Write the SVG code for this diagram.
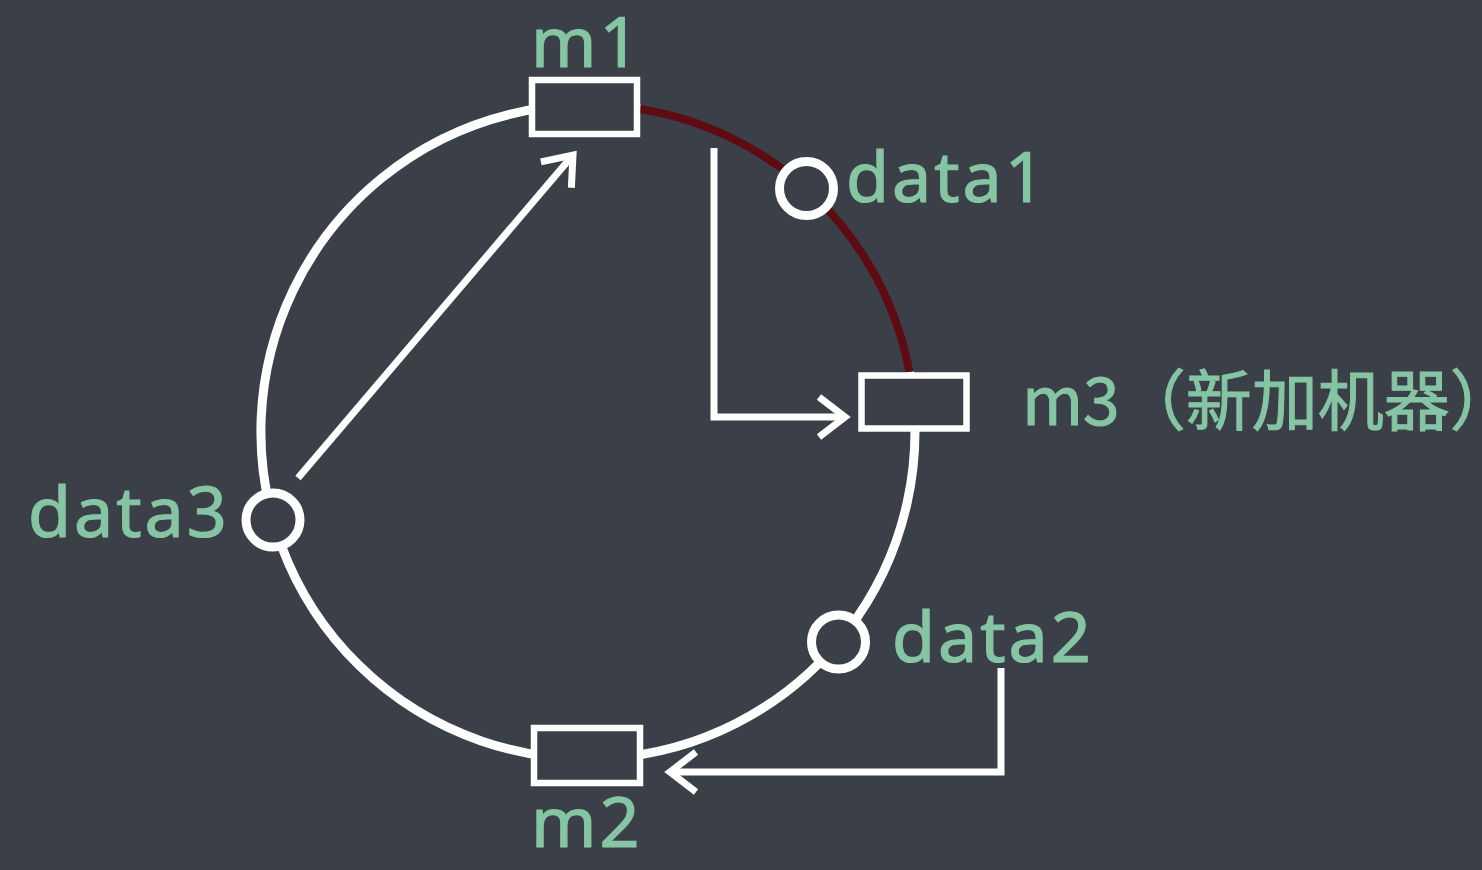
<svg xmlns="http://www.w3.org/2000/svg" width="1482" height="870" viewBox="0 0 1482 870">
  <defs>
    <style>
      .lbl { font-family: "Noto Sans", "Noto Sans CJK SC", sans-serif; font-size: 70px; fill: #86c5a4; stroke: #86c5a4; stroke-width: 1.2; letter-spacing: 3px; }
      .cjk { font-family: "Noto Sans CJK SC", "Noto Sans", sans-serif; font-size: 66px; fill: #86c5a4; stroke: #86c5a4; stroke-width: 1; }
      .ring { fill: none; stroke: #ffffff; stroke-width: 9; }
      .hot { fill: none; stroke: #5e0b12; stroke-width: 8; }
      .box { fill: #3b3f48; stroke: #ffffff; stroke-width: 6.5; }
      .dot { fill: #3b3f48; stroke: #ffffff; stroke-width: 9; }
      .conn { fill: none; stroke: #ffffff; stroke-width: 7; marker-end: url(#chev); }
    </style>
    <marker id="chev" markerUnits="userSpaceOnUse" markerWidth="60" markerHeight="60" viewBox="-40 -30 50 60" refX="0" refY="0" orient="auto" overflow="visible">
      <path d="M -26 -20 L 0 0 L -26 20" fill="none" stroke="#ffffff" stroke-width="7" stroke-linecap="butt" stroke-linejoin="miter"/>
    </marker>
  </defs>
  <rect x="0" y="0" width="1482" height="870" fill="#3b3f48"/>

  <g id="ring">
    <path class="ring" d="M 909.4 372 A 327 327 0 1 1 640 109"/>
    <path class="hot" d="M 640 109 A 327 327 0 0 1 909.4 372"/>
  </g>

  <g id="connectors">
    <path class="conn" d="M 298 478 L 573 155"/>
    <path class="conn" d="M 714 148 V 417 H 845"/>
    <path class="conn" d="M 1001 668 V 772 H 670"/>
  </g>

  <g id="m1">
    <rect class="box" x="532" y="80" width="105" height="54"/>
    <text class="lbl" x="531" y="67">m1</text>
  </g>
  <g id="m2">
    <rect class="box" x="534" y="728" width="106" height="55"/>
    <text class="lbl" x="531" y="847">m2</text>
  </g>
  <g id="m3">
    <rect class="box" x="861.5" y="375.5" width="105" height="53"/>
    <text class="cjk" x="1022" y="425">m3（新加机器）</text>
  </g>
  <g id="data1">
    <circle class="dot" cx="806.5" cy="188.5" r="27"/>
    <text class="lbl" x="846" y="202">data1</text>
  </g>
  <g id="data2">
    <circle class="dot" cx="838.5" cy="642" r="27"/>
    <text class="lbl" x="892" y="662">data2</text>
  </g>
  <g id="data3">
    <circle class="dot" cx="273" cy="520" r="27"/>
    <text class="lbl" x="28" y="537">data3</text>
  </g>
</svg>
